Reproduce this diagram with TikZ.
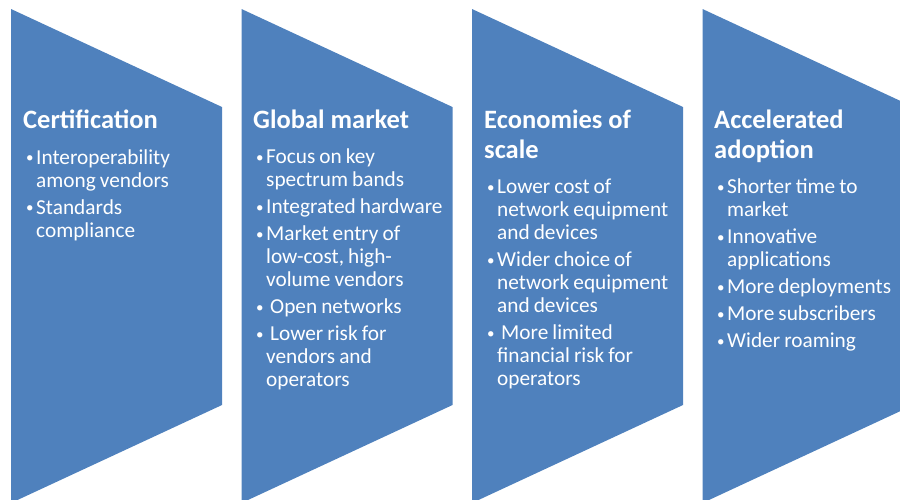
\documentclass[tikz,border=0pt]{standalone}
\usepackage{fontspec}
\setmainfont{Carlito}
\usetikzlibrary{positioning}
\definecolor{chevblue}{HTML}{4F81BD}
\newcommand\itemsetup{\setlength\parskip{4pt}\leftskip=10pt\parindent=0pt\spaceskip=0.19em\relax}
\newcommand\itm[1]{\noindent\hspace*{-10pt}%
  \makebox[10pt][l]{\raisebox{1.2pt}{\fontsize{15}{15}\selectfont\textbullet}}#1\par}
\tikzset{
  chev/.style={fill=chevblue},
  head/.style={anchor=north west,inner sep=0,text=white,align=left,text depth=0pt,
    font=\bfseries\fontsize{26.5}{30}\selectfont},
  items/.style={inner sep=0,text=white,text width=215pt,
    font=\fontsize{21.3}{23}\selectfont}
}
\begin{document}
\begin{tikzpicture}[x=1pt,y=-1pt]
  \useasboundingbox (0,0) rectangle (900,499);
  \clip (0,0) rectangle (900,499);
  % chevrons
  \foreach \x in {11,241.5,472,702.5}
    \fill[chev] (\x,9)--++(211,98)--++(0,298)--++(-211,98)--cycle;
  % titles
  \node[head] (t1) at (23,110) {Certification};
  \node[head] (t2) at (253,110) {Global market};
  \node[head] (t3) at (484,110) {Economies of\\scale};
  \node[head] (t4) at (714,110) {Accelerated\\adoption};
  % bullets
  \node[items,below=20pt of t1.south west,anchor=north west,xshift=3pt] (b1) {\itemsetup
    \itm{Interoperability\\among vendors}
    \itm{Standards\\compliance}};
  \node[items,below=20pt of t2.south west,anchor=north west,xshift=3pt] (b2) {\itemsetup
    \itm{Focus on key\\spectrum bands}
    \itm{Integrated hardware}
    \itm{Market entry of\\low-cost, high-\\volume vendors}
    \itm{\hspace{4pt}Open networks}
    \itm{\hspace{4pt}Lower risk for\\vendors and\\operators}};
  \node[items,below=20pt of t3.south west,anchor=north west,xshift=3pt] (b3) {\itemsetup
    \itm{Lower cost of\\network equipment\\and devices}
    \itm{Wider choice of\\network equipment\\and devices}
    \itm{\hspace{4pt}More limited\\financial risk for\\operators}};
  \node[items,below=20pt of t4.south west,anchor=north west,xshift=3pt] (b4) {\itemsetup
    \itm{Shorter time to\\market}
    \itm{Innovative\\applications}
    \itm{More deployments}
    \itm{More subscribers}
    \itm{Wider roaming}};
\end{tikzpicture}
\end{document}
